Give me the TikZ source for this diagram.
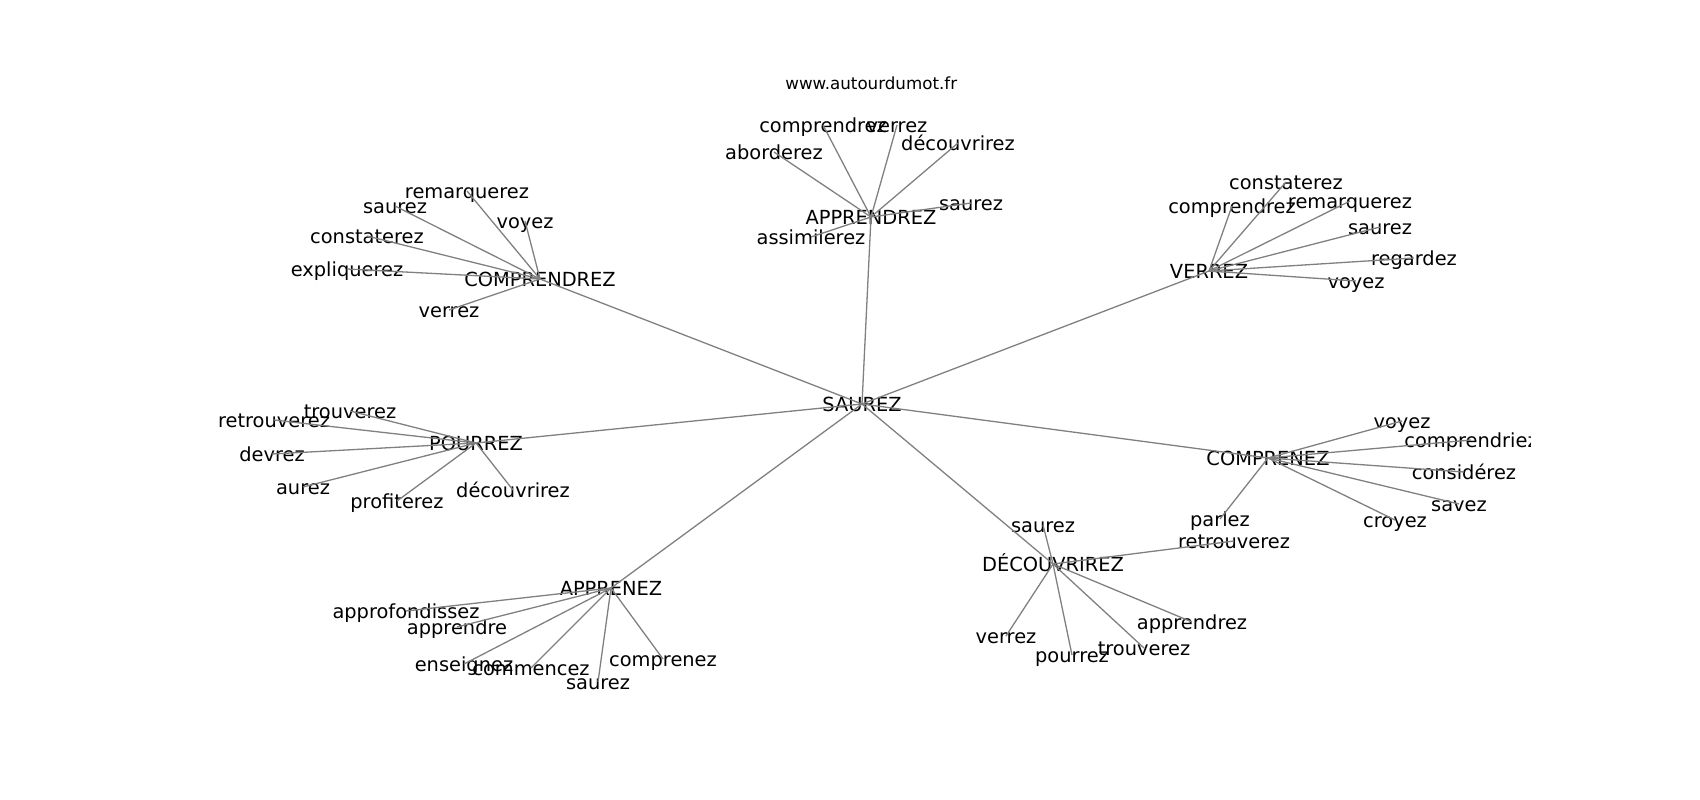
\documentclass[tikz,border=0pt]{standalone}
\usepackage{fontspec}
\setmainfont{DejaVu Sans}
\begin{document}
\begin{tikzpicture}[x=1pt,y=-1pt,
  lbl/.style={inner sep=0pt,outer sep=0pt,anchor=center,text height=19pt,text depth=3.3pt,font=\fontsize{19.4}{23}\selectfont},
  edge/.style={draw=gray,line width=1.3pt}]
\useasboundingbox (0,0) rectangle (1700,800);
\node[anchor=base,inner sep=0pt,font=\fontsize{16.7}{20}\selectfont] (title) at (871.25,89) {www.autourdumot.fr};
\begin{scope}
\clip (212.5,96) rectangle (1530,712);
% hubs
\node[lbl] (S) at (862,404) {SAUREZ};
\node[lbl] (A) at (871,217) {APPRENDREZ};
\node[lbl] (C) at (540,279) {COMPRENDREZ};
\node[lbl] (V) at (1209,271) {VERREZ};
\node[lbl] (P) at (476,443) {POURREZ};
\node[lbl] (CZ) at (1268,458) {COMPRENEZ};
\node[lbl] (D) at (1053,564) {DÉCOUVRIREZ};
\node[lbl] (AP) at (611,588) {APPRENEZ};
% APPRENDREZ leaves
\node[lbl] (a1) at (823,125) {comprendrez};
\node[lbl] (a2) at (897,125) {verrez};
\node[lbl] (a3) at (958,143) {découvrirez};
\node[lbl] (a4) at (774,152) {aborderez};
\node[lbl] (a5) at (971,203) {saurez};
\node[lbl] (a6) at (811,237) {assimilerez};
% COMPRENDREZ leaves
\node[lbl] (c1) at (467,191) {remarquerez};
\node[lbl] (c2) at (395,206) {saurez};
\node[lbl] (c3) at (525,221) {voyez};
\node[lbl] (c4) at (367,236) {constaterez};
\node[lbl] (c5) at (347,269) {expliquerez};
\node[lbl] (c6) at (449,310) {verrez};
% VERREZ leaves
\node[lbl] (v1) at (1286,182) {constaterez};
\node[lbl] (v2) at (1232,206) {comprendrez};
\node[lbl] (v3) at (1350,201) {remarquerez};
\node[lbl] (v4) at (1380,227) {saurez};
\node[lbl] (v5) at (1414,258) {regardez};
\node[lbl] (v6) at (1356,281) {voyez};
% POURREZ leaves
\node[lbl] (p1) at (350,411) {trouverez};
\node[lbl] (p2) at (274,420) {retrouverez};
\node[lbl] (p3) at (272,454) {devrez};
\node[lbl] (p4) at (303,487) {aurez};
\node[lbl] (p5) at (397,501) {profiterez};
\node[lbl] (p6) at (513,490) {découvrirez};
% COMPRENEZ leaves
\node[lbl] (z1) at (1402,421) {voyez};
\node[lbl] (z2) at (1471,440) {comprendriez};
\node[lbl] (z3) at (1464,472) {considérez};
\node[lbl] (z4) at (1459,504) {savez};
\node[lbl] (z5) at (1395,520) {croyez};
\node[lbl] (z6) at (1220,519) {parlez};
% DECOUVRIREZ leaves
\node[lbl] (d1) at (1043,525) {saurez};
\node[lbl] (d2) at (1234,541) {retrouverez};
\node[lbl] (d3) at (1006,636) {verrez};
\node[lbl] (d4) at (1072,655) {pourrez};
\node[lbl] (d5) at (1144,648) {trouverez};
\node[lbl] (d6) at (1192,622) {apprendrez};
% APPRENEZ leaves
\node[lbl] (e1) at (406,611) {approfondissez};
\node[lbl] (e2) at (457,627) {apprendre};
\node[lbl] (e3) at (464,664) {enseignez};
\node[lbl] (e4) at (531,668) {commencez};
\node[lbl] (e5) at (598,682) {saurez};
\node[lbl] (e6) at (663,659) {comprenez};
% edges
\foreach \h in {A,C,V,P,CZ,D,AP} \draw[edge] (S.center) -- (\h.center);
\foreach \l in {a1,a2,a3,a4,a5,a6} \draw[edge] (A.center) -- (\l.center);
\foreach \l in {c1,c2,c3,c4,c5,c6} \draw[edge] (C.center) -- (\l.center);
\foreach \l in {v1,v2,v3,v4,v5,v6} \draw[edge] (V.center) -- (\l.center);
\foreach \l in {p1,p2,p3,p4,p5,p6} \draw[edge] (P.center) -- (\l.center);
\foreach \l in {z1,z2,z3,z4,z5,z6} \draw[edge] (CZ.center) -- (\l.center);
\foreach \l in {d1,d2,d3,d4,d5,d6} \draw[edge] (D.center) -- (\l.center);
\foreach \l in {e1,e2,e3,e4,e5,e6} \draw[edge] (AP.center) -- (\l.center);
\end{scope}
\end{tikzpicture}
\end{document}
